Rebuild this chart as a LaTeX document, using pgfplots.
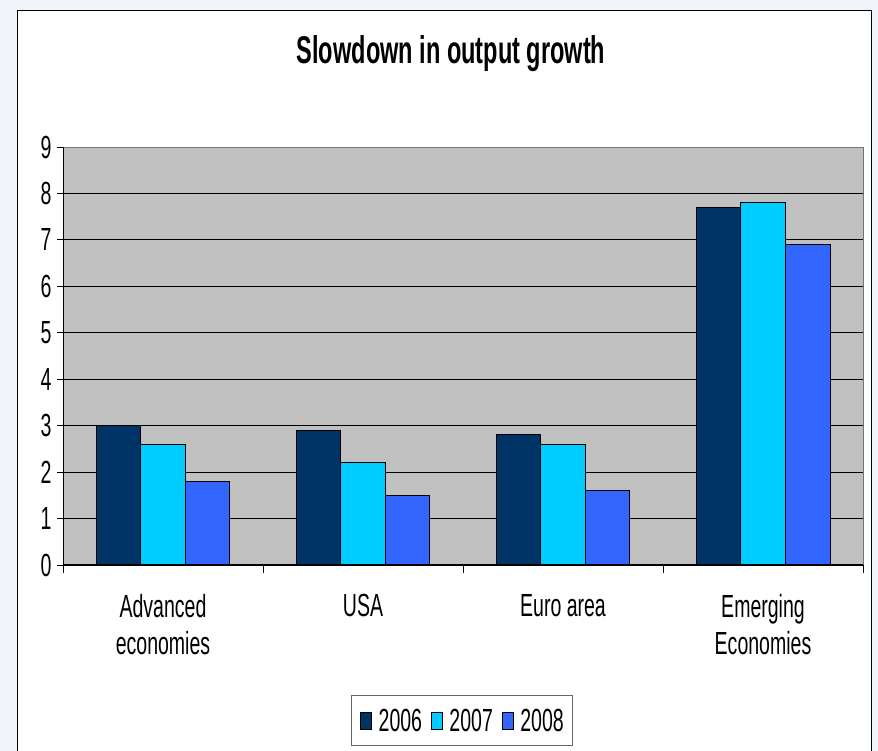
\documentclass[border=0pt]{standalone}
\usepackage{fontspec}
\setmainfont[FakeStretch=0.61]{Liberation Sans}
\usepackage{pgfplots}
\pgfplotsset{compat=1.18}
\definecolor{cA}{HTML}{003366}
\definecolor{cB}{HTML}{00CCFF}
\definecolor{cC}{HTML}{3366FF}
\definecolor{plotbg}{HTML}{C0C0C0}
\definecolor{pagebg}{HTML}{F1F3FA}
\begin{document}
\begin{tikzpicture}
\useasboundingbox (0,0) rectangle (878pt,751pt);
\fill[pagebg] (0,0) rectangle (878pt,751pt);
\fill[white] (17pt,-5pt) rectangle (871pt,740pt);
\draw[black, line width=1pt] (17pt,-5pt) rectangle (871pt,740pt);
\node[anchor=base, font=\bfseries\fontsize{38.6}{44}\selectfont] at (451pt,687pt) {Slowdown in output growth};
\begin{axis}[
  at={(63pt,186pt)}, anchor=south west,
  width=800pt, height=418pt, scale only axis,
  xmin=-0.5, xmax=3.5, ymin=0, ymax=9,
  axis background/.style={fill=plotbg},
  axis line style={draw=gray!90!black, line width=1pt},
  ybar=0pt, bar width=0.2233,
  xtick pos=bottom, ytick pos=left,
  xtick={0,1,2,3},
  xticklabels={{Advanced\\economies},{USA},{Euro area},{Emerging\\Economies}},
  minor xtick={-0.5,0.5,1.5,2.5,3.5},
  major x tick style={draw=none},
  minor x tick style={black, line width=0.8pt},
  minor tick length=8pt,
  ytick={0,1,...,9},
  major tick length=6pt,
  tick align=outside,
  y tick style={black, line width=0.8pt},
  ymajorgrids, grid style={black, line width=0.8pt},
  xticklabel style={align=center, font=\fontsize{32}{37}\selectfont, yshift=-20pt},
  yticklabel style={font=\fontsize{32}{36}\selectfont, xshift=-2pt},
  /pgf/number format/assume math mode=true,
  legend style={at={(0.49875,-0.373)}, anchor=center, legend columns=3,
    draw=gray!80!black, line width=1pt, font=\fontsize{32}{36}\selectfont,
    nodes={inner sep=0pt},
    inner xsep=9pt, inner ysep=13pt,
    /tikz/column sep=0pt,
    /tikz/every even column/.append style={column sep=9pt}},
  legend image code/.code={\draw[#1, line width=0.8pt] (0pt,-8.5pt) rectangle (11pt,8.5pt); \path[draw=none, fill=none] (0pt,0pt) -- (18pt,0pt);},
]
\addplot[fill=cA, draw=black, line width=1pt, bar shift=-0.2233] coordinates {(0,3.0) (1,2.9) (2,2.8) (3,7.7)};
\addplot[fill=cB, draw=black, line width=1pt, bar shift=0] coordinates {(0,2.6) (1,2.2) (2,2.6) (3,7.8)};
\addplot[fill=cC, draw=black, line width=1pt, bar shift=0.2233] coordinates {(0,1.8) (1,1.5) (2,1.6) (3,6.9)};
\legend{2006,2007,2008}
\draw[black, line width=1pt] (rel axis cs:0,0) -- (rel axis cs:0,1);
\draw[black, line width=1pt] (rel axis cs:0,0) -- (rel axis cs:1,0);
\end{axis}
\end{tikzpicture}
\end{document}
